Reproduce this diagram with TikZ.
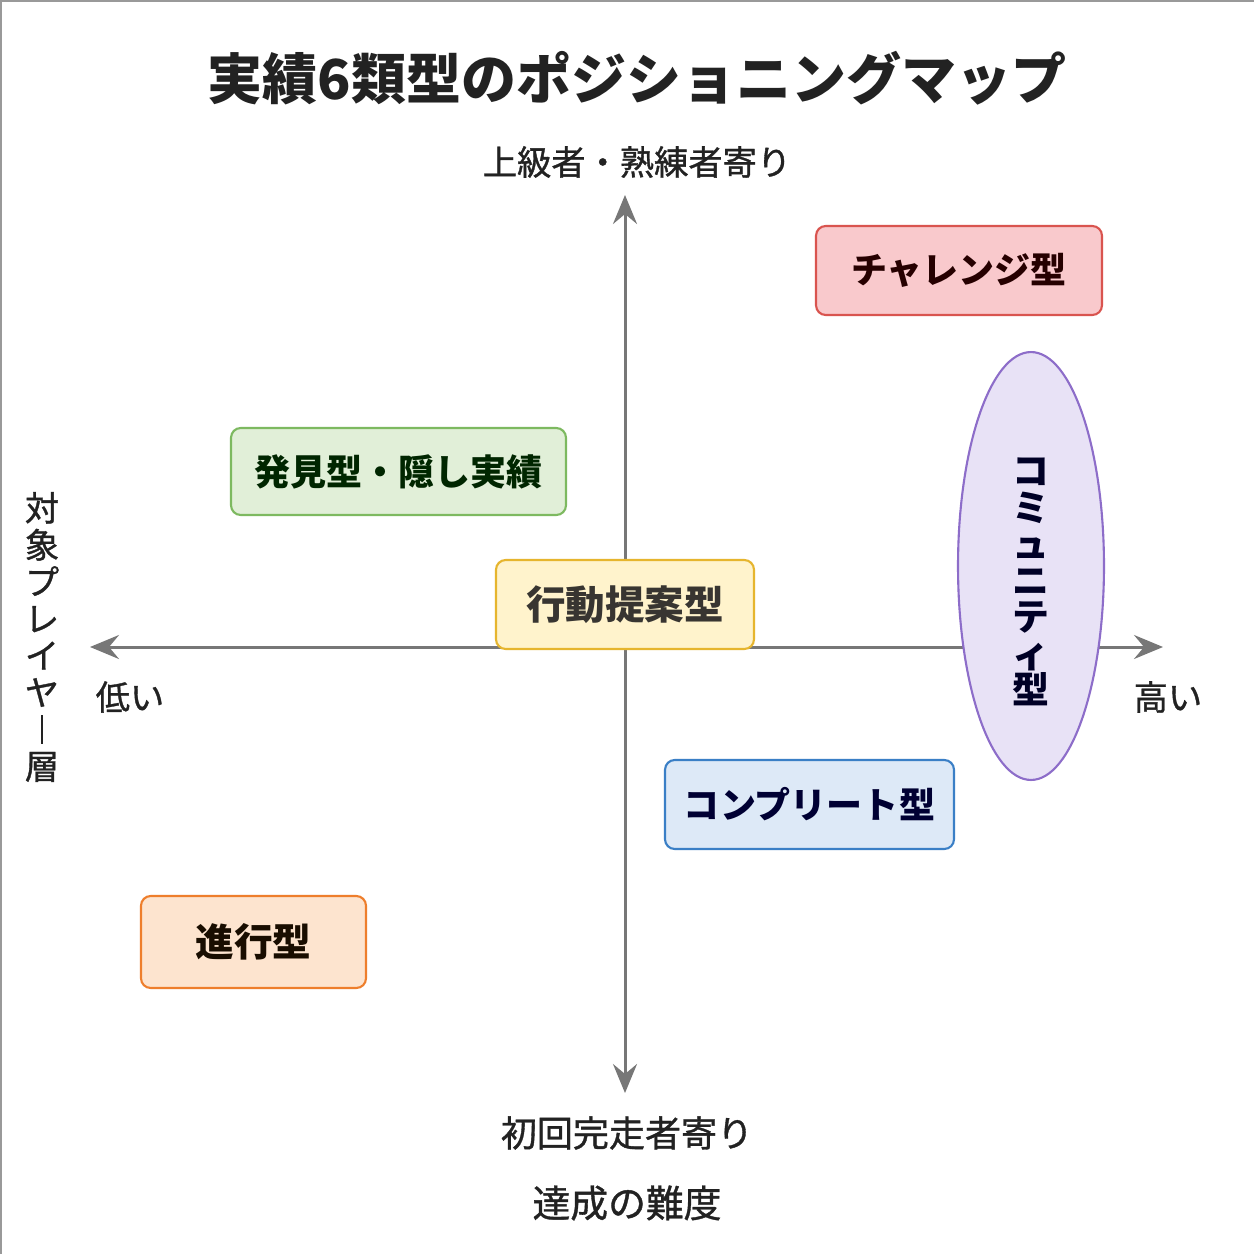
\documentclass[tikz,border=0pt]{standalone}
\usepackage{fontspec}
\usetikzlibrary{arrows.meta,shapes.geometric}
\setmainfont{Noto Sans CJK JP}
\newfontfamily\jpmed[FakeBold=1]{Noto Sans CJK JP}
\newcommand{\vbar}{\makebox[1em][c]{\rule[-0.04em]{0.085em}{0.84em}}}
\definecolor{axisgray}{HTML}{777777}
\definecolor{framegray}{HTML}{999999}
\definecolor{txt}{HTML}{222222}
\definecolor{redfill}{HTML}{F9C9CC}\definecolor{redline}{HTML}{D9544F}
\definecolor{grnfill}{HTML}{E1EFD8}\definecolor{grnline}{HTML}{7DB960}
\definecolor{ylwfill}{HTML}{FFF3CC}\definecolor{ylwline}{HTML}{E6B52E}
\definecolor{blufill}{HTML}{DDE9F7}\definecolor{bluline}{HTML}{3A7FC6}
\definecolor{orgfill}{HTML}{FDE4CF}\definecolor{orgline}{HTML}{EE7E2C}
\definecolor{purfill}{HTML}{E8E2F6}\definecolor{purline}{HTML}{8D6DC9}
\tikzset{
  typebox/.style={draw, line width=1.2pt, rounded corners=5.5pt, align=center,
    font=\fontsize{20.5pt}{22pt}\selectfont\bfseries, inner sep=0pt},
  axis/.style={draw=axisgray, line width=1.7pt,
    -{Stealth[length=0.58cm, width=0.48cm, inset=0.2cm]}},
  axlabel/.style={text=txt, font=\jpmed\fontsize{19.5pt}{21pt}\selectfont, inner sep=0pt},
}
\begin{document}
\begin{tikzpicture}[x=0.02cm, y=-0.02cm]
\useasboundingbox (0,0) rectangle (1254,1254);
\fill[white] (0,0) rectangle (1254,1254);
\draw[framegray, line width=1.2pt] (1254,0.5) -- (0.5,0.5) -- (0.5,1254);

% title
\node[text=txt, font=\fontsize{31.3pt}{34pt}\selectfont\bfseries, inner sep=0pt] (title) at (637,78) {実績6類型のポジショニングマップ};

% axes
\coordinate (c) at (625,647);
\coordinate (xl) at (90,647);
\coordinate (xr) at (1163,647);
\coordinate (yt) at (625,195);
\coordinate (yb) at (625,1093);
\draw[axis] (c) -- (xl);
\draw[axis] (c) -- (xr);
\draw[axis] (c) -- (yt);
\draw[axis] (c) -- (yb);

% axis labels
\node[axlabel] (top) at (637,162) {上級者・熟練者寄り};
\node[axlabel, font=\jpmed\fontsize{20.5pt}{22pt}\selectfont] (bot) at (627,1133) {初回完走者寄り};
\node[axlabel, font=\jpmed\fontsize{21.5pt}{23pt}\selectfont] (ttl) at (627,1203) {達成の難度};
\node[axlabel] (low) at (130,697) {低い};
\node[axlabel] (high) at (1168,697) {高い};
\node[axlabel, align=center, font=\jpmed\fontsize{19.5pt}{21pt}\selectfont] (side) at (42,637)
  {対\\象\\プ\\レ\\イ\\ヤ\\\vbar\\層};

% type boxes
\node[typebox, fill=redfill, draw=redline, text=black!85!red, minimum width=5.72cm, minimum height=1.78cm] (chal) at (959,270.5) {チャレンジ型};
\node[typebox, fill=grnfill, draw=grnline, text=black!85!green, minimum width=6.70cm, minimum height=1.74cm] (hid) at (398.5,471.5) {発見型・隠し実績};
\node[typebox, fill=ylwfill, draw=ylwline, text=black!90!yellow, minimum width=5.16cm, minimum height=1.78cm, font=\fontsize{22.5pt}{24pt}\selectfont\bfseries] (act) at (625,604.5) {行動提案型};
\node[typebox, fill=blufill, draw=bluline, text=black!80!blue, minimum width=5.78cm, minimum height=1.78cm] (comp) at (809.5,804.5) {コンプリート型};
\node[typebox, fill=orgfill, draw=orgline, text=black!90!orange, minimum width=4.50cm, minimum height=1.84cm, font=\fontsize{22pt}{24pt}\selectfont\bfseries] (prog) at (253.5,942) {進行型};
\node[ellipse, draw=purline, fill=purfill, line width=1.2pt, minimum width=2.92cm, minimum height=8.56cm, inner sep=0pt] (comm) at (1031,566) {};
\node[text=black!85!blue, align=center, inner sep=0pt, font=\fontsize{21pt}{20.8pt}\selectfont\bfseries] (commt) at (1031,582) {コ\\ミ\\ュ\\ニ\\テ\\ィ\\型};
\end{tikzpicture}
\end{document}
